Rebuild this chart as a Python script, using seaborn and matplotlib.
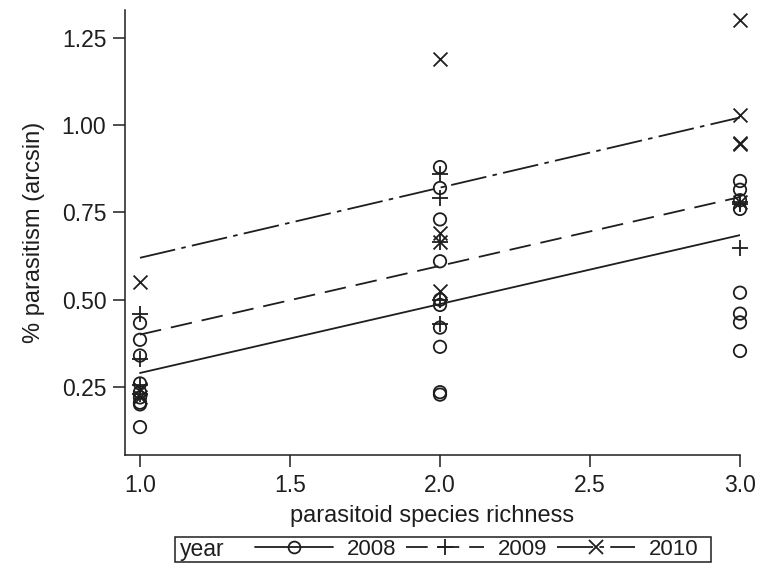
import matplotlib
matplotlib.use("Agg")
import matplotlib.pyplot as plt
import seaborn as sns
import pandas as pd
from matplotlib.lines import Line2D
from matplotlib.patches import Rectangle

# ---- data ----
years = ["2008", "2009", "2010"]

x2008 = [1]*9 + [2]*10 + [3]*8
y2008 = [0.433, 0.385, 0.34, 0.26, 0.235, 0.22, 0.205, 0.135, 0.20,
         0.88, 0.82, 0.73, 0.61, 0.50, 0.485, 0.42, 0.365, 0.235, 0.228,
         0.84, 0.815, 0.785, 0.76, 0.52, 0.46, 0.435, 0.353]

x2009 = [1]*4 + [2]*5 + [3]*3
y2009 = [0.46, 0.33, 0.255, 0.23,
         0.86, 0.79, 0.665, 0.50, 0.43,
         0.78, 0.775, 0.648]

x2010 = [1]*3 + [2]*4 + [3]*5
y2010 = [0.55, 0.245, 0.22,
         1.19, 0.69, 0.665, 0.525,
         1.30, 1.03, 0.95, 0.945, 0.78]

# fitted lines (values at x = 1 and x = 3)
fit_x = [1, 3]
fit2008 = [0.29, 0.685]
fit2009 = [0.40, 0.794]
fit2010 = [0.62, 1.022]

xticks = [1.0, 1.5, 2.0, 2.5, 3.0]
yticks = [0.25, 0.50, 0.75, 1.00, 1.25]

# ---- style ----
sns.set_theme(style="ticks")
plt.rcParams["font.family"] = ["Liberation Sans", "DejaVu Sans"]
ink = "#1e1e1e"
FS_TICK = 16.5
FS_LAB = 17
FS_LEG = 16
W, H = 760, 565

fig = plt.figure(figsize=(W/100, H/100), dpi=100)
ax = fig.add_axes([125/W, 1-455/H, (740-125)/W, (455-10)/H])

df08 = pd.DataFrame({"x": x2008, "y": y2008})
df09 = pd.DataFrame({"x": x2009, "y": y2009})
df10 = pd.DataFrame({"x": x2010, "y": y2010})

sns.scatterplot(data=df08, x="x", y="y", ax=ax, marker="o", s=80,
                facecolors="none", edgecolor=ink, linewidth=1.3, legend=False, clip_on=False)
sns.scatterplot(data=df09, x="x", y="y", ax=ax, marker="+", s=130,
                color=ink, linewidth=1.3, legend=False, clip_on=False)
sns.scatterplot(data=df10, x="x", y="y", ax=ax, marker="x", s=100,
                color=ink, linewidth=1.3, legend=False, clip_on=False)

LW = 1.3
ls08 = "-"
ls09 = (0, (12, 5.5))
ls10 = (0, (20, 3.5, 2.5, 3.5))
sns.lineplot(x=fit_x, y=fit2008, ax=ax, color=ink, lw=LW, linestyle=ls08)
sns.lineplot(x=fit_x, y=fit2009, ax=ax, color=ink, lw=LW, linestyle=ls09)
sns.lineplot(x=fit_x, y=fit2010, ax=ax, color=ink, lw=LW, linestyle=ls10)

ax.set_xlim(0.95, 3.0)
ax.set_ylim(0.055, 1.33)
ax.set_xticks(xticks)
ax.set_xticklabels([f"{v:.1f}" for v in xticks])
ax.set_yticks(yticks)
ax.set_yticklabels([f"{v:.2f}" for v in yticks])
ax.tick_params(axis="both", labelsize=FS_TICK, length=8.5, width=1.1, color=ink,
               labelcolor=ink, pad=5)
for s in ["top", "right"]:
    ax.spines[s].set_visible(False)
for s in ["left", "bottom"]:
    ax.spines[s].set_color(ink)
    ax.spines[s].set_linewidth(1.1)

ax.set_xlabel("parasitoid species richness", fontsize=FS_LAB, color=ink, labelpad=6)
ax.set_ylabel("% parasitism (arcsin)", fontsize=FS_LAB, color=ink, labelpad=12)

# ---- legend (key row at bottom, boxed, with "year" at its left) ----
handles = [
    Line2D([], [], color=ink, lw=LW, linestyle=ls08, marker="o", markersize=8.5,
           markerfacecolor="none", markeredgecolor=ink, markeredgewidth=1.3),
    Line2D([], [], color=ink, lw=LW, linestyle=ls09, marker="+", markersize=11,
           markeredgewidth=1.3),
    Line2D([], [], color=ink, lw=LW, linestyle=ls10, marker="x", markersize=9.5,
           markeredgewidth=1.3),
]
yc = 1 - 549.5/H
leg = fig.legend(handles, years, ncol=3, loc="center left",
                 bbox_to_anchor=(255/W, yc), fontsize=FS_LEG,
                 frameon=False, handlelength=3.5, handletextpad=0.63,
                 columnspacing=0.45, borderpad=0, borderaxespad=0, numpoints=1)
for t in leg.get_texts():
    t.set_color(ink)
fig.text(180/W, yc, "year", fontsize=FS_LEG + 0.5, color=ink, ha="left", va="center")
fig.patches.append(Rectangle((175/W, 1-562/H), (711-175)/W, 25/H,
                             transform=fig.transFigure, fill=False,
                             edgecolor=ink, linewidth=1.1))

fig.savefig("out.png", dpi=100)
